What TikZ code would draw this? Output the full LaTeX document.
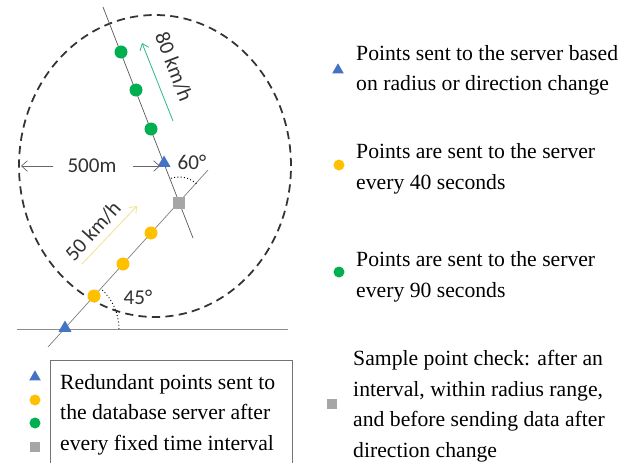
\documentclass[tikz,border=0pt]{standalone}
\usepackage{fontspec}
\setmainfont{Liberation Serif}
\newfontfamily\lblfont{Carlito}
\usetikzlibrary{shapes.geometric,arrows.meta,calc}
\definecolor{mblue}{HTML}{4472C4}
\definecolor{myellow}{HTML}{FFC000}
\definecolor{mgreen}{HTML}{00B050}
\definecolor{mgray}{HTML}{A6A6A6}
\definecolor{teal2}{HTML}{35B98C}
\definecolor{lyellow}{HTML}{EFE48A}
\begin{document}
\begin{tikzpicture}[x=0.03cm,y=0.03cm,
  tri/.style={regular polygon, regular polygon sides=3, fill=mblue, inner sep=0pt, minimum size=0.45cm},
  ydot/.style={circle, fill=myellow, inner sep=0pt, minimum size=0.39cm},
  gdot/.style={circle, fill=mgreen, inner sep=0pt, minimum size=0.39cm},
  gsq/.style={rectangle, fill=mgray, inner sep=0pt, minimum size=0.36cm},
  ltri/.style={tri, minimum size=0.4cm},
  lydot/.style={ydot, minimum size=0.33cm},
  lgdot/.style={gdot, minimum size=0.33cm},
  lgsq/.style={gsq, minimum size=0.32cm},
  legtext/.style={anchor=base west, inner sep=0pt, align=left,
    font=\fontsize{18.5}{26}\selectfont},
  lbl/.style={inner sep=0pt, font=\lblfont\fontsize{18}{20}\selectfont, text=black!80},
  road/.style={draw=black!65, line width=0.6pt},
  dimarrow/.style={draw=black!60, line width=0.6pt, -{Straight Barb[length=5pt,width=9pt]}},
]
\clip (0,0) rectangle (631,462);
\fill[white] (0,0) rectangle (631,462);

% radius circle
\draw[black!80, line width=1.5pt, dash pattern=on 7pt off 4.5pt] (155,296) ellipse [x radius=136, y radius=151];

% roads
\coordinate (gtop) at (103,455);
\coordinate (gbot) at (193,224);
\coordinate (ybot) at (48,115);
\coordinate (ytop) at (208,292);
\coordinate (hl) at (17,133);
\coordinate (hr) at (288,133);
\draw[road] (gtop) -- (gbot);
\draw[draw=black!50, line width=0.6pt] (ybot) -- (ytop);
\draw[draw=black!45, line width=0.8pt] (hl) -- (hr);

% angles
\draw[dotted, line width=0.8pt] (119,133) arc[start angle=0, end angle=48, radius=54];
\draw[dotted, line width=0.8pt] ($(179,259)+(48:26)$) arc[start angle=48, end angle=111, radius=26];

% markers on roads
\node[gdot] (g1) at (121,410) {};
\node[gdot] (g2) at (136,372) {};
\node[gdot] (g3) at (151,333) {};
\node[tri] (t1) at (164,299) {};
\node[gsq] (sq) at (179,259) {};
\node[ydot] (y3) at (151,229) {};
\node[ydot] (y2) at (123,198) {};
\node[ydot] (y1) at (94,166) {};
\node[tri] (t0) at (65,134) {};

% speed arrows and labels
\coordinate (ga1) at (173,341);
\coordinate (ga2) at (142,419);
\draw[teal2, line width=0.7pt, -{Straight Barb[length=5pt,width=8pt]}] (ga1) -- (ga2);
\node[lbl, rotate=-69] (v80) at (174,395) {80 km/h};
\coordinate (ya1) at (82,198);
\coordinate (ya2) at (137,256);
\draw[lyellow, line width=0.7pt, -{Straight Barb[length=5pt,width=8pt]}] (ya1) -- (ya2);
\node[lbl, rotate=48] (v50) at (93,231) {50 km/h};

% radius label
\node[lbl] (r500) at (92,296) {500m};
\coordinate (rl) at (21,296);
\coordinate (rr) at (160,296);
\draw[dimarrow] (r500.west) ++(-14,0) -- (rl);
\draw[dimarrow] (r500.east) ++(16,0) -- (rr);

% angle labels
\node[lbl] (a60) at (192,300) {60°};
\node[lbl] (a45) at (138,165) {45°};

% left legend
\draw[black!55, line width=0.8pt] (50,-10) rectangle (292,102);
\node[ltri] (lt) at (35,85) {};
\node[lydot] (ly) at (35,62) {};
\node[lgdot] (lg) at (35,39) {};
\node[lgsq] (ls) at (35,15) {};
\node[legtext] (leg0) at (60,12) {Redundant points sent to\\the database server after\\every fixed time interval};

% right legend
\node[ltri] (rt) at (338,392) {};
\node[legtext] (leg1) at (356,371) {Points sent to the server based\\on radius or direction change};
\node[lydot] (ry) at (339,297) {};
\node[legtext] (leg2) at (356,273) {Points are sent to the server\\every 40 seconds};
\node[lgdot] (rg) at (339,190) {};
\node[legtext] (leg3) at (356,165) {Points are sent to the server\\every 90 seconds};
\node[lgsq] (rs) at (332,58) {};
\node[legtext] (leg4) at (353,5) {Sample point check: after an\\interval, within radius range,\\and before sending data after\\direction change};
\end{tikzpicture}
\end{document}
